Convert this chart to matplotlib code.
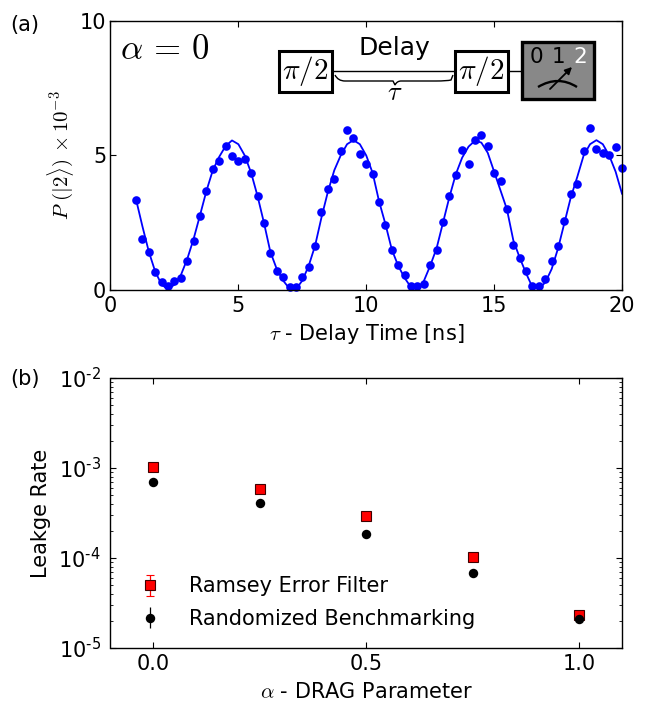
import numpy as np
import matplotlib
matplotlib.use("Agg")
import matplotlib.pyplot as plt
from matplotlib.patches import Rectangle, PathPatch
from matplotlib.path import Path

plt.rcParams['font.family'] = 'DejaVu Sans'
plt.rcParams['font.size'] = 15
plt.rcParams['mathtext.fontset'] = 'cm'
plt.rcParams['axes.linewidth'] = 1.0
plt.rcParams['xtick.direction'] = 'in'
plt.rcParams['ytick.direction'] = 'in'
plt.rcParams['xtick.top'] = True
plt.rcParams['ytick.right'] = True

# panel (a): Ramsey data, one point every 0.25 ns
delay = np.arange(77) * 0.25 + 1.0
pop = [3.36, 1.90, 1.43, 0.66, 0.31, 0.15, 0.34, 0.45, 1.09, 1.84, 2.75, 3.67, 4.51,
       4.79, 5.34, 4.99, 4.79, 4.86, 4.35, 3.49, 2.50, 1.36, 0.72, 0.50, 0.12, 0.12,
       0.47, 0.85, 1.62, 2.89, 3.77, 4.14, 5.17, 5.96, 5.66, 5.04, 4.68, 4.32, 3.27,
       2.43, 1.48, 0.93, 0.56, 0.14, 0.15, 0.24, 0.93, 1.48, 2.52, 3.49, 4.29, 5.22,
       4.69, 5.57, 5.76, 5.34, 4.35, 4.07, 3.00, 1.68, 1.18, 0.70, 0.15, 0.15, 0.42,
       1.06, 1.62, 2.57, 3.58, 3.93, 5.17, 6.04, 5.24, 5.11, 5.00, 5.30, 4.54]
fit = [3.36, 2.36, 1.42, 0.68, 0.20, 0.02, 0.20, 0.55, 1.15, 1.90, 2.78, 3.68, 4.45,
       4.95, 5.35, 5.56, 5.42, 5.00, 4.35, 3.49, 2.50, 1.42, 0.78, 0.35, 0.05, 0.03,
       0.35, 0.90, 1.65, 2.70, 3.65, 4.45, 5.00, 5.42, 5.57, 5.42, 5.00, 4.35, 3.30,
       2.45, 1.50, 0.90, 0.45, 0.10, 0.03, 0.33, 0.90, 1.55, 2.50, 3.45, 4.30, 4.92,
       5.33, 5.55, 5.48, 5.10, 4.40, 3.70, 3.00, 1.85, 1.20, 0.62, 0.10, 0.05, 0.28,
       0.78, 1.55, 2.50, 3.45, 4.20, 5.00, 5.42, 5.57, 5.42, 5.00, 4.40, 3.58]

# panel (b): leakage vs DRAG parameter
alpha = [0.0, 0.25, 0.5, 0.75, 1.0]
ramsey = [1.02e-3, 5.9e-4, 2.9e-4, 1.03e-4, 2.34e-5]
ramsey_err = [6e-5, 3e-5, 1.5e-5, 5e-6, 1.5e-6]
rb = [7.0e-4, 4.1e-4, 1.85e-4, 6.9e-5, 2.1e-5]
rb_err = [2e-5, 1e-5, 6e-6, 2e-6, 1e-6]
decades = [-5, -4, -3, -2]

W, H = 647, 702
fig = plt.figure(figsize=(6.47, 7.02), dpi=100)

ax1 = fig.add_axes([110.5 / W, 1 - 290 / H, 511.5 / W, 269 / H])
ax1.plot(delay, fit, '-', color='#0000ff', lw=1.3)
ax1.plot(delay, pop, 'o', color='#0000ff', ms=6.2, mew=0, clip_on=False)
ax1.set_xlim(0, 20)
ax1.set_ylim(0, 10)
ax1.set_xticks([0, 5, 10, 15, 20])
ax1.set_yticks([0, 5, 10])
ax1.tick_params(axis='x', length=4, width=0.8, pad=4)
ax1.tick_params(axis='y', length=4, width=0.8, pad=3)
ax1.set_xlabel(r'$\tau$ - Delay Time [ns]', labelpad=5)
ax1.set_ylabel(r'$P\ (|2\rangle)\,\times 10^{-3}$', labelpad=3)

ax2 = fig.add_axes([110.5 / W, 1 - 648 / H, 511.5 / W, 270 / H])
ax2.set_yscale('log')
ax2.errorbar(alpha, ramsey, yerr=ramsey_err, fmt='s', color='red', mfc='red', mec='#400000',
             ms=6.5, mew=0.8, capsize=3, capthick=0.9, elinewidth=0.9, label='Ramsey Error Filter')
ax2.errorbar(alpha, rb, yerr=rb_err, fmt='o', color='black', ms=6.8, mew=0, capsize=3,
             capthick=0.9, elinewidth=0.9, label='Randomized Benchmarking')
ax2.set_xlim(-0.1, 1.1)
ax2.set_ylim(1e-5, 1e-2)
ax2.set_xticks([0, 0.5, 1.0])
ax2.set_yticks([10.0 ** d for d in decades])
# plain hyphen in the exponents, as in the reference
ax2.set_yticklabels(['$\\mathdefault{10^{\u2010%d}}$' % abs(d) for d in decades])
ax2.tick_params(axis='x', which='major', length=4, width=0.8, pad=4)
ax2.tick_params(axis='y', which='major', length=4, width=0.8, pad=7)
ax2.tick_params(which='minor', length=2, width=0.6)
ax2.set_xlabel(r'$\alpha$ - DRAG Parameter', labelpad=6)
ax2.set_ylabel('Leakge Rate', labelpad=5)
ax2.legend(loc='lower left', bbox_to_anchor=(9.5 / 511.5, 4.5 / 270), frameon=False, numpoints=1,
           labelspacing=0.6, handlelength=1.5, handletextpad=1.1, borderaxespad=0.3)

# overlay in pixel coordinates for the panel letters and the circuit sketch
ov = fig.add_axes([0, 0, 1, 1])
ov.set_xlim(0, W)
ov.set_ylim(H, 0)
ov.axis('off')
ov.patch.set_alpha(0)

ov.text(10, 25, '(a)', ha='left', va='center', fontsize=15)
ov.text(10, 379, '(b)', ha='left', va='center', fontsize=15)
ov.text(120, 49, r'$\alpha\,=\,0$', ha='left', va='center', fontsize=25)

ov.plot([332, 454], [70.5, 70.5], color='black', lw=1.0)
ov.plot([508, 522], [70.5, 70.5], color='black', lw=1.0)
for x0 in (279, 454.5):
    ov.add_patch(Rectangle((x0, 51), 53, 41, fc='white', ec='black', lw=2.2))
    ov.text(x0 + 26.5, 71, r'$\pi/2$', ha='center', va='center', fontsize=21)
ov.text(394, 48, 'Delay', ha='center', va='center', fontsize=18)

brace = Path([(335, 75), (338, 81), (345, 81), (350, 81), (375, 81), (389, 81), (393, 81), (395, 85),
              (397, 81), (401, 81), (412, 81), (436, 81), (447, 81), (451, 80), (453, 75)],
             [Path.MOVETO, Path.CURVE3, Path.CURVE3, Path.LINETO, Path.LINETO, Path.CURVE3, Path.CURVE3,
              Path.LINETO, Path.CURVE3, Path.CURVE3, Path.LINETO, Path.LINETO, Path.CURVE3, Path.CURVE3,
              Path.LINETO])
ov.add_patch(PathPatch(brace, fc='none', ec='black', lw=1.0))
ov.text(395, 93, r'$\tau$', ha='center', va='center', fontsize=19)

ov.add_patch(Rectangle((522, 42), 71.5, 57, fc='#888888', ec='black', lw=2.4))
ov.text(536.7, 57, '0', ha='center', va='center', fontsize=15.5)
ov.text(558, 57, '1', ha='center', va='center', fontsize=15.5)
ov.text(580, 57, '2', ha='center', va='center', fontsize=15.5, color='white')
arc = Path([(538, 87), (558, 75), (577, 87)], [Path.MOVETO, Path.CURVE3, Path.CURVE3])
ov.add_patch(PathPatch(arc, fc='none', ec='black', lw=1.7))
ov.annotate('', xy=(572, 67), xytext=(550, 89),
            arrowprops=dict(arrowstyle='-|>', color='black', lw=1.3, mutation_scale=10, shrinkA=0, shrinkB=0))

fig.savefig('out.png', dpi=100)
